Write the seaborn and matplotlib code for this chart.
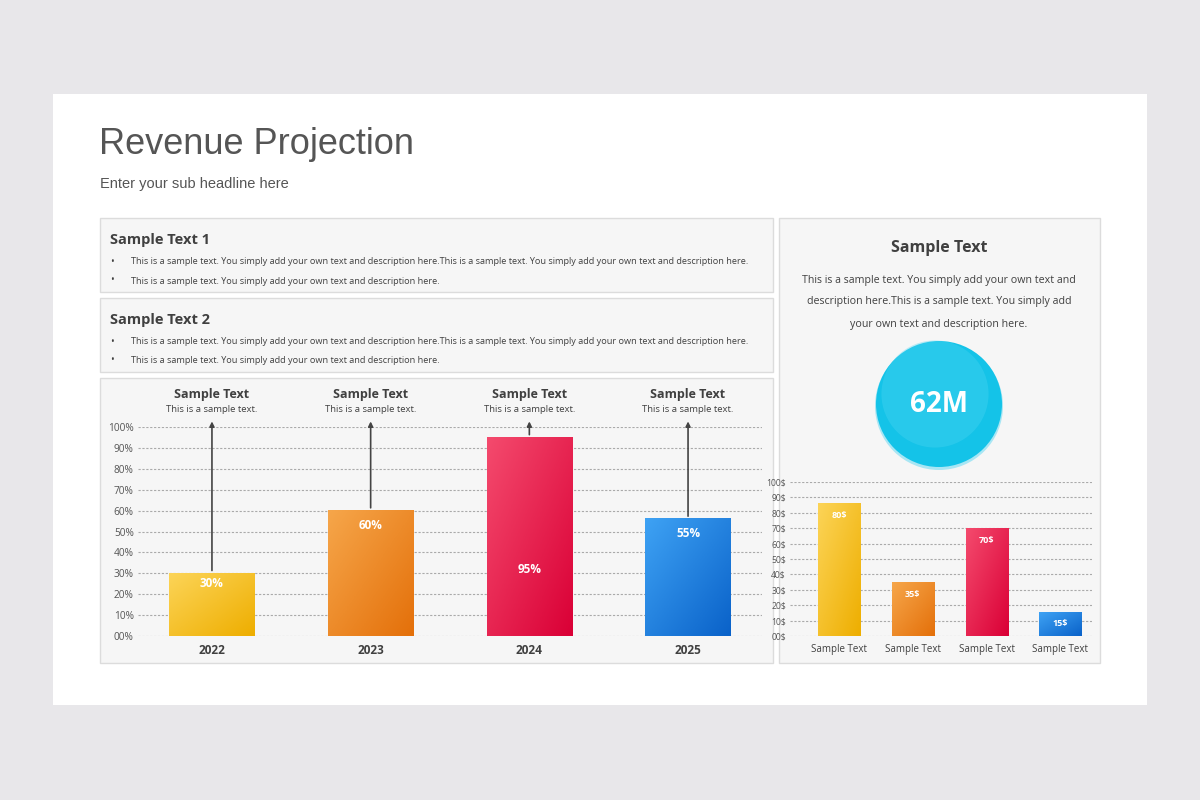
import matplotlib.pyplot as plt
import matplotlib.patches as mpatches
from matplotlib.colors import LinearSegmentedColormap
import numpy as np
import pandas as pd
import seaborn as sns

sns.set_theme(style="white")
plt.rcParams['font.family'] = ['Open Sans', 'DejaVu Sans']

W, H = 1200, 800
fig = plt.figure(figsize=(12, 8), dpi=100)
fig.patch.set_facecolor("#e8e7ea")


def px(x, y):
    # top-left pixel coords -> figure fraction
    return x / W, 1 - y / H


def rect(x0, y0, x1, y1, fc, ec="none", lw=1.0, z=0):
    fig.patches.append(mpatches.Rectangle(px(x0, y1), (x1 - x0) / W, (y1 - y0) / H,
                                          transform=fig.transFigure, fc=fc, ec=ec, lw=lw, zorder=z))


def txt(x, y, s, **kw):
    fig.text(*px(x, y), s, **kw)


# slide and panels
rect(53, 94, 1147, 705, "white", z=0)
for box in [(100, 218, 773, 292), (100, 298, 773, 372), (100, 378, 773, 663), (779, 218, 1100, 663)]:
    rect(*box, "#f6f6f6", ec="#dcdcdc", z=1)

txt(99, 144, "Revenue Projection", fontsize=26, color="#555555", va="center", family="Liberation Sans")
txt(100, 184, "Enter your sub headline here", fontsize=10.5, color="#555555", va="center",
    family="Liberation Sans")

body = "This is a sample text. You simply add your own text and description here."
for i, y in enumerate([240, 320]):
    txt(110, y, f"Sample Text {i + 1}", fontsize=10.5, weight="bold", color="#404040", va="center")
    txt(110, y + 22, "\u2022", fontsize=7, color="#404040", va="center")
    txt(131, y + 22, body + body, fontsize=6.55, color="#404040", va="center")
    txt(110, y + 41, "\u2022", fontsize=7, color="#404040", va="center")
    txt(131, y + 41, body, fontsize=6.55, color="#404040", va="center")

txt(939, 248, "Sample Text", fontsize=11.5, weight="bold", color="#404040", ha="center", va="center")
for y, line in zip([280, 302, 324], ["This is a sample text. You simply add your own text and",
                                     "description here.This is a sample text. You simply add",
                                     "your own text and description here."]):
    txt(939, y, line, fontsize=7.7, color="#404040", ha="center", va="center")

# bubble
cx, cy, r = 939, 800 - 404, 63
fig.patches.append(mpatches.Circle((cx, cy - 2), r + 1, transform=None, fc="#a8e6f4", ec="none", zorder=2))
fig.patches.append(mpatches.Circle((cx, cy), r, transform=None, fc="#14c3e8", ec="none", zorder=3))
fig.patches.append(mpatches.Circle((cx - 4, cy + 10), r * 0.85, transform=None, fc="#4fd6f2", ec="none",
                                   alpha=0.35, zorder=3))
txt(939, 405, "62M", fontsize=20, weight="bold", color="white", ha="center", va="center", zorder=5)

GRADS = [("#fcd457", "#eeae00"), ("#f6a64a", "#e4700a"), ("#f44a6d", "#da0036"), ("#3ea2f4", "#0a62c9")]


def gradient_bars(ax):
    for p, (c0, c1) in zip(ax.patches, GRADS):
        x, y, w, h = p.get_x(), p.get_y(), p.get_width(), p.get_height()
        cmap = LinearSegmentedColormap.from_list("g", [c0, c1])
        g = np.add.outer(np.linspace(0, 1, 50), np.linspace(0, 1, 50)) / 2
        ax.imshow(g, cmap=cmap, extent=(x, x + w, y, y + h), aspect="auto", zorder=2, origin="upper")
        p.set_visible(False)
    ax.set_aspect("auto")


def style(ax, ticks, labels, size):
    ax.set_facecolor("none")
    sns.despine(ax=ax, left=True, bottom=True)
    ax.set_yticks(ticks)
    ax.set_yticklabels(labels, fontsize=size, color="#555555")
    ax.yaxis.grid(True, linestyle=(0, (2, 1.5)), color="#aaaaaa", lw=0.8)
    ax.set_axisbelow(True)
    ax.tick_params(axis="both", length=0, pad=3)
    ax.set_xlabel("")
    ax.set_ylabel("")


# left chart
left = pd.DataFrame({"year": ["2022", "2023", "2024", "2025"], "value": [30, 60, 95, 56],
                     "label": ["30%", "60%", "95%", "55%"]})
ax1 = fig.add_axes([138 / W, 164 / H, 624 / W, 209 / H], zorder=4)
sns.barplot(data=left, x="year", y="value", hue="year", palette=[g[1] for g in GRADS],
            width=0.54, legend=False, ax=ax1)
gradient_bars(ax1)
ax1.set_xlim(-0.466, 3.466)
ax1.set_ylim(0, 100)
style(ax1, range(0, 101, 10), [f"{v:02d}%" for v in range(0, 101, 10)], 7.3)
ax1.set_xticks(range(4))
ax1.set_xticklabels(left["year"], fontsize=8.5, weight="bold", color="#404040")
ax1.tick_params(axis="x", pad=6)
label_y = [25, 53, 32, 49]
for i, row in left.iterrows():
    ax1.annotate("", xy=(i, 104), xytext=(i, row.value), annotation_clip=False,
                 arrowprops=dict(arrowstyle="-|>", color="#444444", lw=1.2, mutation_scale=7), zorder=5)
    ax1.text(i, label_y[i], row.label, ha="center", va="center", fontsize=8.5, weight="bold",
             color="white", zorder=5)
    ax1.text(i, 115.5, "Sample Text", ha="center", va="center", fontsize=9, weight="bold", color="#404040")
    ax1.text(i, 108.5, "This is a sample text.", ha="center", va="center", fontsize=6.8, color="#404040")

# right chart
right = pd.DataFrame({"name": ["A", "B", "C", "D"], "value": [86, 35, 70, 15],
                      "label": ["80$", "35$", "70$", "15$"]})
ax2 = fig.add_axes([790 / W, 164 / H, 302 / W, 154 / H], zorder=4)
sns.barplot(data=right, x="name", y="value", hue="name", palette=[g[1] for g in GRADS],
            width=0.57, legend=False, ax=ax2)
gradient_bars(ax2)
ax2.set_xlim(-0.665, 3.43)
ax2.set_ylim(0, 100)
style(ax2, range(0, 101, 10), [f"{v:02d}$" for v in range(0, 101, 10)], 6.2)
ax2.set_xticks(range(4))
ax2.set_xticklabels(["Sample Text"] * 4, fontsize=7, color="#404040")
ax2.tick_params(axis="x", pad=6)
for i, row in right.iterrows():
    ax2.text(i, row.value - 8 if row.value > 20 else row.value - 7, row.label, ha="center", va="center",
             fontsize=6.5, weight="bold", color="white", zorder=5)

fig.savefig("out.png", dpi=100, facecolor=fig.get_facecolor())
